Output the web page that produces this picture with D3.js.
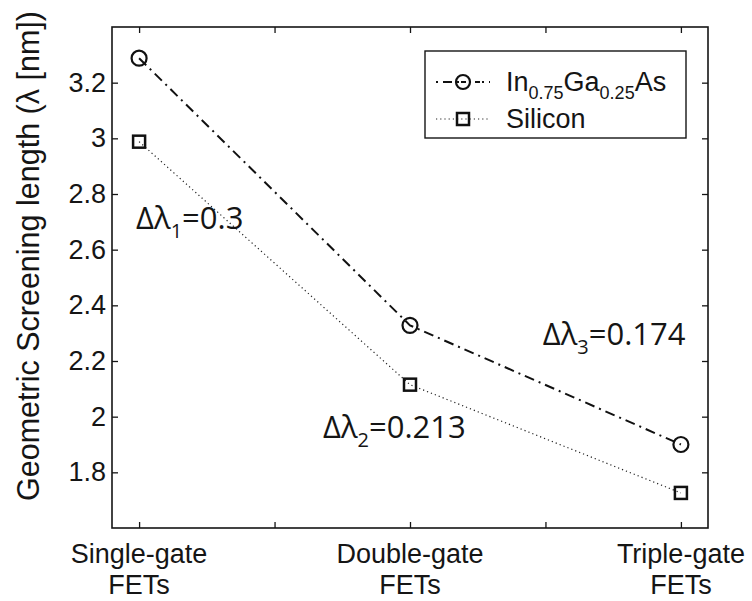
<!DOCTYPE html>
<html>
<head>
<meta charset="utf-8">
<script src="https://cdn.jsdelivr.net/npm/d3@7"></script>
<style>
  html, body { margin: 0; padding: 0; background: #fff; }
  svg { display: block; }
</style>
</head>
<body>
<svg id="chart" width="752" height="601"></svg>
<script>
// ---- data ----
const categoryPositions = [1, 2, 3];
const categoryLine1 = ["Single-gate", "Double-gate", "Triple-gate"];
const categoryLine2 = ["FETs", "FETs", "FETs"];
const xTickValues = [1, 1.5, 2, 2.5, 3];
const yTickValues = [1.8, 2.0, 2.2, 2.4, 2.6, 2.8, 3.0, 3.2];
const inGaAs = [3.288, 2.328, 1.900];
const silicon = [2.988, 2.115, 1.726];
const deltaSubs = ["1", "2", "3"];
const deltaValues = ["0.3", "0.213", "0.174"];
const yLabel = "Geometric Screening length (\u03bb [nm])";

// ---- layout ----
const svg = d3.select("#chart");
const pL = 112, pR = 708, pT = 27, pB = 528;
const x = d3.scaleLinear().domain([0.9, 3.1]).range([pL, pR]);
const y = d3.scaleLinear().domain([1.6, 3.4]).range([pB, pT]);
const tickFont = "'Liberation Sans', Arial, Helvetica, sans-serif";
const annFont = "'Open Sans', 'Noto Sans', sans-serif";
const ink = "#151515";

// axes with inward ticks
const tl = 6;
svg.append("g").attr("transform", `translate(0,${pB})`)
  .call(d3.axisBottom(x).tickValues(xTickValues).tickSizeInner(-tl).tickSizeOuter(0).tickFormat(""))
  .call(g => g.select(".domain").remove());
svg.append("g").attr("transform", `translate(0,${pT})`)
  .call(d3.axisTop(x).tickValues(xTickValues).tickSizeInner(-tl).tickSizeOuter(0).tickFormat(""))
  .call(g => g.select(".domain").remove());
svg.append("g").attr("transform", `translate(${pL},0)`)
  .call(d3.axisLeft(y).tickValues(yTickValues).tickSizeInner(-tl).tickSizeOuter(0).tickPadding(6)
    .tickFormat(d => d3.format("~g")(d)))
  .call(g => g.select(".domain").remove())
  .call(g => g.selectAll("text").attr("font-family", tickFont).attr("font-size", 27).attr("fill", ink));
svg.append("g").attr("transform", `translate(${pR},0)`)
  .call(d3.axisRight(y).tickValues(yTickValues).tickSizeInner(-tl).tickSizeOuter(0).tickFormat(""))
  .call(g => g.select(".domain").remove());
svg.selectAll(".tick line").attr("stroke", ink).attr("stroke-width", 1.3);

svg.append("rect").attr("x", pL).attr("y", pT)
  .attr("width", pR - pL).attr("height", pB - pT)
  .attr("fill", "none").attr("stroke", ink).attr("stroke-width", 1.6);

// x category labels
const xl = svg.append("g");
categoryPositions.forEach((c, i) => {
  const t = xl.append("text").attr("x", x(c)).attr("y", 563)
    .attr("text-anchor", "middle").attr("font-family", tickFont)
    .attr("font-size", 27).attr("fill", ink);
  t.append("tspan").attr("x", x(c)).text(categoryLine1[i]);
  t.append("tspan").attr("x", x(c)).attr("dy", 31).text(categoryLine2[i]);
});

// y label
svg.append("text").attr("transform", `translate(39,256) rotate(-90)`)
  .attr("text-anchor", "middle").attr("font-family", tickFont)
  .attr("font-size", 30.5).attr("fill", ink).text(yLabel);

// lines
const line = d3.line().x((d, i) => x(categoryPositions[i])).y(d => y(d));
svg.append("path").datum(inGaAs).attr("d", line).attr("fill", "none")
  .attr("stroke", "#111").attr("stroke-width", 2).attr("stroke-dasharray", "10,5,2,5");
svg.append("path").datum(silicon).attr("d", line).attr("fill", "none")
  .attr("stroke", "#222").attr("stroke-width", 1.2).attr("stroke-dasharray", "1.2,3");

// markers
svg.selectAll(".circ").data(inGaAs).enter().append("circle")
  .attr("cx", (d, i) => x(categoryPositions[i])).attr("cy", d => y(d)).attr("r", 7.5)
  .attr("fill", "none").attr("stroke", "#111").attr("stroke-width", 2.2);
const sq = 12;
svg.selectAll(".sq").data(silicon).enter().append("rect")
  .attr("x", (d, i) => x(categoryPositions[i]) - sq / 2).attr("y", d => y(d) - sq / 2)
  .attr("width", sq).attr("height", sq)
  .attr("fill", "none").attr("stroke", "#111").attr("stroke-width", 2.5);

// annotations (anchor in data coordinates)
const annPos = [[0.989, 2.674], [1.679, 1.923], [2.490, 2.257]];
deltaSubs.forEach((s, i) => {
  const t = svg.append("text").attr("x", x(annPos[i][0])).attr("y", y(annPos[i][1]))
    .attr("font-family", annFont).attr("font-size", 31).attr("fill", ink);
  t.append("tspan").text("\u0394\u03bb");
  t.append("tspan").attr("font-size", 20).attr("dy", 9).text(s);
  t.append("tspan").attr("dy", -9).text("=" + deltaValues[i]);
});

// legend
const lg = svg.append("g");
const lx0 = 425, ly0 = 51, lx1 = 686, ly1 = 138;
lg.append("rect").attr("x", lx0).attr("y", ly0).attr("width", lx1 - lx0).attr("height", ly1 - ly0)
  .attr("fill", "#fff").attr("stroke", ink).attr("stroke-width", 1.4);
const rows = [82, 119];
lg.append("line").attr("x1", 436).attr("x2", 490).attr("y1", rows[0]).attr("y2", rows[0])
  .attr("stroke", "#111").attr("stroke-width", 2).attr("stroke-dasharray", "2,5,9,5,2");
lg.append("circle").attr("cx", 463).attr("cy", rows[0]).attr("r", 7)
  .attr("fill", "none").attr("stroke", "#111").attr("stroke-width", 2.2);
lg.append("line").attr("x1", 436).attr("x2", 490).attr("y1", rows[1]).attr("y2", rows[1])
  .attr("stroke", "#222").attr("stroke-width", 1.2).attr("stroke-dasharray", "1.2,3");
lg.append("rect").attr("x", 463 - sq / 2).attr("y", rows[1] - sq / 2).attr("width", sq).attr("height", sq)
  .attr("fill", "none").attr("stroke", "#111").attr("stroke-width", 2.5);
const t1 = lg.append("text").attr("x", 506).attr("y", rows[0] + 9)
  .attr("font-family", tickFont).attr("font-size", 27).attr("fill", ink);
t1.append("tspan").text("In");
t1.append("tspan").attr("font-size", 18).attr("dy", 8).text("0.75");
t1.append("tspan").attr("dy", -8).text("Ga");
t1.append("tspan").attr("font-size", 18).attr("dy", 8).text("0.25");
t1.append("tspan").attr("dy", -8).text("As");
lg.append("text").attr("x", 506).attr("y", rows[1] + 9)
  .attr("font-family", tickFont).attr("font-size", 27).attr("fill", ink).text("Silicon");
</script>
</body>
</html>
